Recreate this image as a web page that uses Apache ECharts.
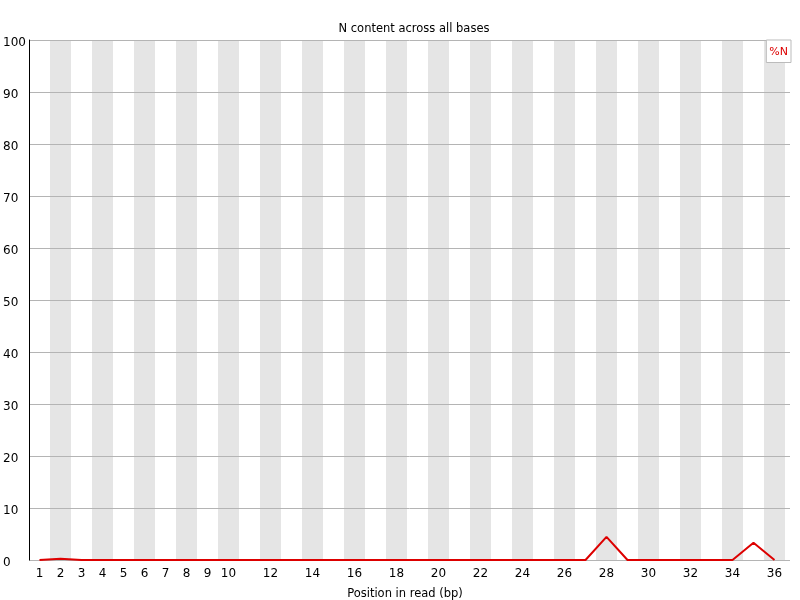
<!DOCTYPE html>
<html><head><meta charset="utf-8">
<script src="https://cdn.jsdelivr.net/npm/echarts@6/dist/echarts.min.js"></script>
<style>html,body{margin:0;padding:0;background:#fff}#c{width:800px;height:600px}</style>
</head><body><div id="c"></div>
<script>
const positions = ['1','2','3','4','5','6','7','8','9','10','11','12','13','14','15','16','17','18','19','20','21','22','23','24','25','26','27','28','29','30','31','32','33','34','35','36'];
const nPercent = [0,0.25,0,0,0,0,0,0,0,0,0,0,0,0,0,0,0,0,0,0,0,0,0,0,0,0,0,4.45,0,0,0,0,0,0,3.3,0];
const yTicks = [0,10,20,30,40,50,60,70,80,90,100];

const chart = echarts.init(document.getElementById('c'), null, {renderer:'canvas'});
const font = 'DejaVu Sans, sans-serif';
chart.setOption({
  animation:false,
  backgroundColor:'#fff',
  title:[
    {text:'N content across all bases', left:409, top:18, textAlign:'center',
     textStyle:{fontFamily:font,fontSize:11.5,fontWeight:'normal',color:'#000'}},
    {text:'Position in read (bp)', left:400, top:583, textAlign:'center',
     textStyle:{fontFamily:font,fontSize:11.5,fontWeight:'normal',color:'#000'}}
  ],
  legend:{
    data:[{name:'%N', icon:'none'}],
    right:9, top:40, itemWidth:0, itemGap:0,
    padding:[5,3,5,3],
    borderColor:'#bbb', borderWidth:1, backgroundColor:'#fff',
    textStyle:{color:'#dd0000', fontFamily:font, fontSize:11, padding:[0,0,0,-5]}
  },
  grid:[
    {left:29, right:15, top:40, bottom:40},
    {left:29, right:10, top:40, bottom:40}
  ],
  xAxis:[
    {type:'category', gridIndex:0, data:positions, boundaryGap:true,
     axisLine:{show:false}, axisTick:{show:false},
     axisLabel:{color:'#000', fontFamily:font, fontSize:12, margin:8,
       interval:(i,v)=>{const n=+v; return n<=10 || n%2===0;}},
     splitLine:{show:false},
     splitArea:{show:true, interval:0, areaStyle:{color:['#ffffff','#e5e5e5']}}},
    {type:'value', gridIndex:1, show:false, min:0, max:1}
  ],
  yAxis:[
    {type:'value', gridIndex:0, min:0, max:100, interval:10, show:false},
    {type:'value', gridIndex:1, min:0, max:100, interval:10, z:1,
     axisLine:{show:true, lineStyle:{color:'#000', width:1}},
     axisTick:{show:false},
     axisLabel:{color:'#000', fontFamily:font, fontSize:12, align:'left', margin:26,
       formatter:v=> yTicks.includes(v) ? '{a|' + v + '}' : '',
       rich:{a:{fontFamily:font, fontSize:12, color:'#000', padding:[5,0,0,0]}}},
     splitLine:{show:true, lineStyle:{color:'#b4b4b4', width:1}}}
  ],
  series:[
    {name:'%N', type:'line', xAxisIndex:0, yAxisIndex:0, data:nPercent,
     showSymbol:false, symbol:'none', z:5,
     lineStyle:{color:'#dd0000', width:2}, itemStyle:{color:'#dd0000'}}
  ]
});
</script></body></html>
